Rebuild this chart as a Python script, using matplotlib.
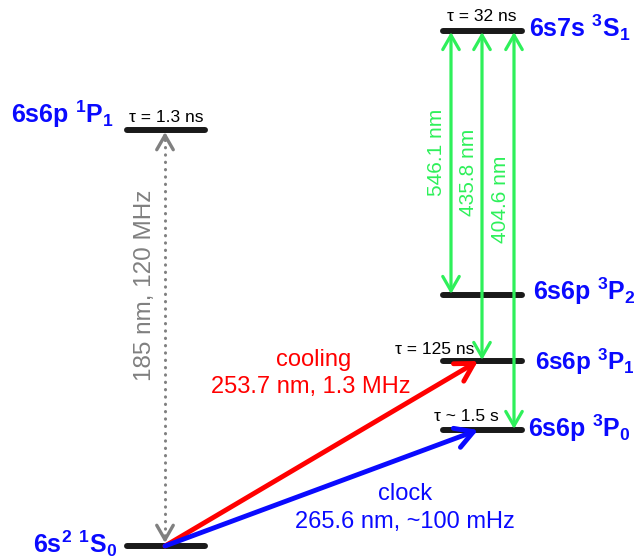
import numpy as np
import matplotlib
matplotlib.use("Agg")
import matplotlib.pyplot as plt

plt.rcParams['font.family'] = ['Liberation Sans', 'DejaVu Sans']
plt.rcParams['mathtext.fontset'] = 'custom'
plt.rcParams['mathtext.rm'] = 'Liberation Sans'
plt.rcParams['mathtext.bf'] = 'Liberation Sans:bold'
plt.rcParams['mathtext.it'] = 'Liberation Sans:italic'

# ---- data: schematic level heights (diagram units above ground state) ----
level_keys = ['1S0', '1P1', '3P0', '3P1', '3P2', '3S1']
level_height = [0, 416, 116, 185, 251, 515]
level_labels = [r'6s$^\mathbf{2}$ $^\mathbf{1}$S$_\mathbf{0}$',
                r'6s6p $^\mathbf{1}$P$_\mathbf{1}$',
                r'6s6p $^\mathbf{3}$P$_\mathbf{0}$',
                r'6s6p $^\mathbf{3}$P$_\mathbf{1}$',
                r'6s6p $^\mathbf{3}$P$_\mathbf{2}$',
                r'6s7s $^\mathbf{3}$S$_\mathbf{1}$']
lifetimes = {'1P1': 'τ = 1.3 ns', '3S1': 'τ = 32 ns',
             '3P1': 'τ = 125 ns', '3P0': 'τ ~ 1.5 s'}
green_lines = ['546.1 nm', '435.8 nm', '404.6 nm']
green_lower = ['3P2', '3P1', '3P0']

H = dict(zip(level_keys, level_height))

BLUE = '#0a0aff'
GREEN = '#2ef05a'
RED = '#ff0000'
GRAY = '#808080'

fig = plt.figure(figsize=(6.39, 5.59), dpi=100)
ax = fig.add_axes([0, 0, 1, 1])
ax.set_xlim(0, 639)
ax.set_ylim(-13, 546)
ax.axis('off')


def py(p):
    # pixel row of the reference -> diagram units
    return 546 - p


# columns (x extent of level bars)
left_col = (127, 205)
right_col = (443, 522)
col_of = {'1S0': left_col, '1P1': left_col}

# level bars + names
lab_x = {'1S0': 117, '1P1': 114, '3S1': 529, '3P2': 533, '3P1': 535, '3P0': 528}
lab_base = {'1S0': 553, '1P1': 123, '3S1': 37, '3P2': 300, '3P1': 370, '3P0': 437}
for key, lab in zip(level_keys, level_labels):
    x0, x1 = col_of.get(key, right_col)
    y = H[key]
    ax.plot([x0, x1], [y, y], color='#1a1a1a', lw=4.3, solid_capstyle='round', zorder=3)
    ax.text(lab_x[key], py(lab_base[key]), lab, color=BLUE,
            fontsize=17.5 if key == '3P1' else 18,
            fontweight='bold', ha='right' if key in col_of else 'left',
            va='baseline')

# lifetimes
tau_fs = 12.5
ax.text(166, py(122), lifetimes['1P1'], fontsize=tau_fs, ha='center', va='baseline')
ax.text(482, py(21), lifetimes['3S1'], fontsize=tau_fs, ha='center', va='baseline')
ax.text(474, py(354), lifetimes['3P1'], fontsize=tau_fs, ha='right', va='baseline')
ax.text(466, py(421), lifetimes['3P0'], fontsize=tau_fs, ha='center', va='baseline')


def arrow(x0, y0, x1, y1, color, lw, style='->', ms=20):
    ax.annotate('', xy=(x1, y1), xytext=(x0, y0),
                arrowprops=dict(arrowstyle=style + ',head_length=0.47,head_width=0.27',
                                color=color, lw=lw, shrinkA=0, shrinkB=0,
                                mutation_scale=ms), zorder=4)


# green visible transitions from 3S1
gx = [451, 482, 514]
glab_x = [437, 469, 500]
glab_y = [152, 172, 199]
for x, name, low, tx, ty in zip(gx, green_lines, green_lower, glab_x, glab_y):
    arrow(x, H[low] + 1, x, H['3S1'] - 1, GREEN, 2.3, style='<->', ms=22)
    ax.text(tx, py(ty), name, color=GREEN, fontsize=15, rotation=90,
            ha='center', va='center')

# 185 nm dotted gray line
gxx = 165
ax.plot([gxx, gxx], [H['1S0'] + 10, H['1P1'] - 10], color=GRAY, lw=2.2,
        linestyle=(0, (0.1, 2.3)), dash_capstyle='round', zorder=2)
arrow(gxx, H['1P1'] - 10, gxx, H['1P1'] - 2, GRAY, 2.4, ms=22)
arrow(gxx, H['1S0'] + 10, gxx, H['1S0'] + 3, GRAY, 2.4, ms=22)
ax.text(145, py(285), '185 nm, 120 MHz', color=GRAY, fontsize=17.5, rotation=90,
        ha='center', va='center')

# cooling and clock transitions
arrow(165, H['1S0'], 478, H['3P1'], RED, 3.5, ms=27)
arrow(165, H['1S0'], 478, H['3P0'], BLUE, 3.5, ms=27)
ax.text(314, py(366), 'cooling', color=RED, fontsize=17, ha='center', va='baseline')
ax.text(311, py(393), '253.7 nm, 1.3 MHz', color=RED, fontsize=17,
        ha='center', va='baseline')
ax.text(405, py(500), 'clock', color=BLUE, fontsize=17, ha='center', va='baseline')
ax.text(405, py(528), '265.6 nm, ~100 mHz', color=BLUE, fontsize=17,
        ha='center', va='baseline')

fig.savefig('out.png', dpi=100)
